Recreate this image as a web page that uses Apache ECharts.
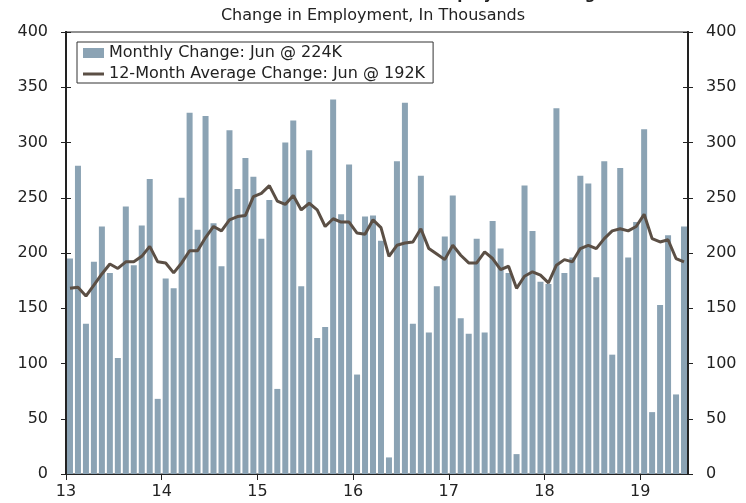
<!DOCTYPE html>
<html>
<head>
<meta charset="utf-8">
<script src="https://cdn.jsdelivr.net/npm/echarts@6/dist/echarts.min.js"></script>
<style>
  html, body { margin: 0; padding: 0; background: #fff; }
  #chart { width: 746px; height: 503px; }
</style>
</head>
<body>
<div id="chart"></div>
<script>
// Jan 2013 .. Jun 2019, values in thousands
const years = ['13', '14', '15', '16', '17', '18', '19']
const monthNames = ['Jan', 'Feb', 'Mar', 'Apr', 'May', 'Jun', 'Jul', 'Aug', 'Sep', 'Oct', 'Nov', 'Dec']

const monthlyChange = [
  195, 279, 136, 192, 224, 182, 105, 242, 189, 225, 267, 68,
  177, 168, 250, 327, 221, 324, 227, 188, 311, 258, 286, 269,
  213, 248, 77, 300, 320, 170, 293, 123, 133, 339, 235, 280,
  90, 233, 234, 211, 15, 283, 336, 136, 270, 128, 170, 215,
  252, 141, 127, 213, 128, 229, 204, 182, 18, 261, 220, 174,
  172, 331, 182, 196, 270, 263, 178, 283, 108, 277, 196, 228,
  312, 56, 153, 216, 72, 224
]

const avgChange = [
  168, 169, 161, 171, 181, 190, 186, 192, 192, 197, 206, 192,
  191, 182, 191, 202, 202, 214, 224, 220, 230, 233, 234, 251,
  254, 261, 247, 244, 252, 239, 245, 239, 224, 231, 228, 228,
  218, 217, 230, 223, 197, 207, 209, 210, 222, 204, 199, 194,
  207, 198, 191, 191, 201, 195, 185, 188, 168, 179, 183, 180,
  173, 189, 194, 192, 204, 207, 204, 213, 220, 222, 220, 224,
  235, 213, 210, 212, 195, 192
]

const months = []
years.forEach(y => monthNames.forEach(m => months.push(m + '-' + y)))
months.length = monthlyChange.length

const font = 'DejaVu Sans'
const ink = '#222'

const chart = echarts.init(document.getElementById('chart'))

const yBase = {
  type: 'value',
  min: 0,
  max: 400,
  interval: 50,
  splitLine: { show: false },
  axisLine: { show: true, lineStyle: { color: ink, width: 2 } },
  axisTick: { show: true, length: 5, lineStyle: { color: ink } },
  axisLabel: { color: ink, fontFamily: font, fontSize: 16, margin: 18 }
}

chart.setOption({
  animation: false,
  textStyle: { fontFamily: font },
  title: [
    {
      text: 'Nonfarm Employment Change',
      left: 348,
      top: -17,
      textStyle: { fontFamily: font, fontSize: 15, fontWeight: 'bold', color: ink }
    },
    {
      text: 'Change in Employment, In Thousands',
      left: 'center',
      top: 3,
      textStyle: { fontFamily: font, fontSize: 16, fontWeight: 'normal', color: ink }
    }
  ],
  legend: {
    orient: 'vertical',
    left: 77,
    top: 42,
    padding: [3, 8, 1, 6],
    itemGap: 5,
    itemWidth: 21,
    itemHeight: 10,
    borderColor: '#333',
    borderWidth: 1,
    textStyle: { fontFamily: font, fontSize: 16, color: ink },
    data: [
      { name: 'Monthly Change: Jun @ 224K', icon: 'rect' },
      { name: '12-Month Average Change: Jun @ 192K', icon: 'path://M0,0H21V3H0Z' }
    ]
  },
  grid: {
    left: 66,
    right: 58,
    top: 32,
    bottom: 29,
    show: true,
    borderColor: ink,
    borderWidth: 1
  },
  xAxis: [
    {
      type: 'category',
      data: months,
      boundaryGap: true,
      axisLine: { lineStyle: { color: ink, width: 1 } },
      axisTick: { inside: true, length: 6, interval: 5, lineStyle: { color: ink } },
      axisLabel: { show: false }
    },
    {
      type: 'value',
      position: 'bottom',
      min: 0,
      max: months.length,
      interval: 12,
      splitLine: { show: false },
      axisLine: { show: false },
      axisTick: { show: true, length: 6, lineStyle: { color: ink } },
      axisLabel: {
        color: ink,
        fontFamily: font,
        fontSize: 16,
        margin: 10,
        showMaxLabel: false,
        formatter: v => (v % 12 === 0 ? years[v / 12] || '' : '')
      }
    }
  ],
  yAxis: [
    Object.assign({}, yBase, { position: 'left' }),
    Object.assign({}, yBase, { position: 'right' }),
    Object.assign({}, yBase, {
      position: 'left',
      axisLabel: { show: false },
      axisTick: { show: true, inside: true, length: 5, lineStyle: { color: ink } }
    }),
    Object.assign({}, yBase, {
      position: 'right',
      axisLabel: { show: false },
      axisTick: { show: true, inside: true, length: 5, lineStyle: { color: ink } }
    })
  ],
  series: [
    {
      name: 'Monthly Change: Jun @ 224K',
      type: 'bar',
      xAxisIndex: 0,
      yAxisIndex: 0,
      barWidth: 6,
      itemStyle: { color: '#8BA3B4' },
      data: monthlyChange
    },
    {
      name: '12-Month Average Change: Jun @ 192K',
      type: 'line',
      xAxisIndex: 0,
      yAxisIndex: 0,
      symbol: 'none',
      lineStyle: { color: '#5B4F45', width: 3 },
      itemStyle: { color: '#5B4F45' },
      data: avgChange
    }
  ]
})
</script>
</body>
</html>
